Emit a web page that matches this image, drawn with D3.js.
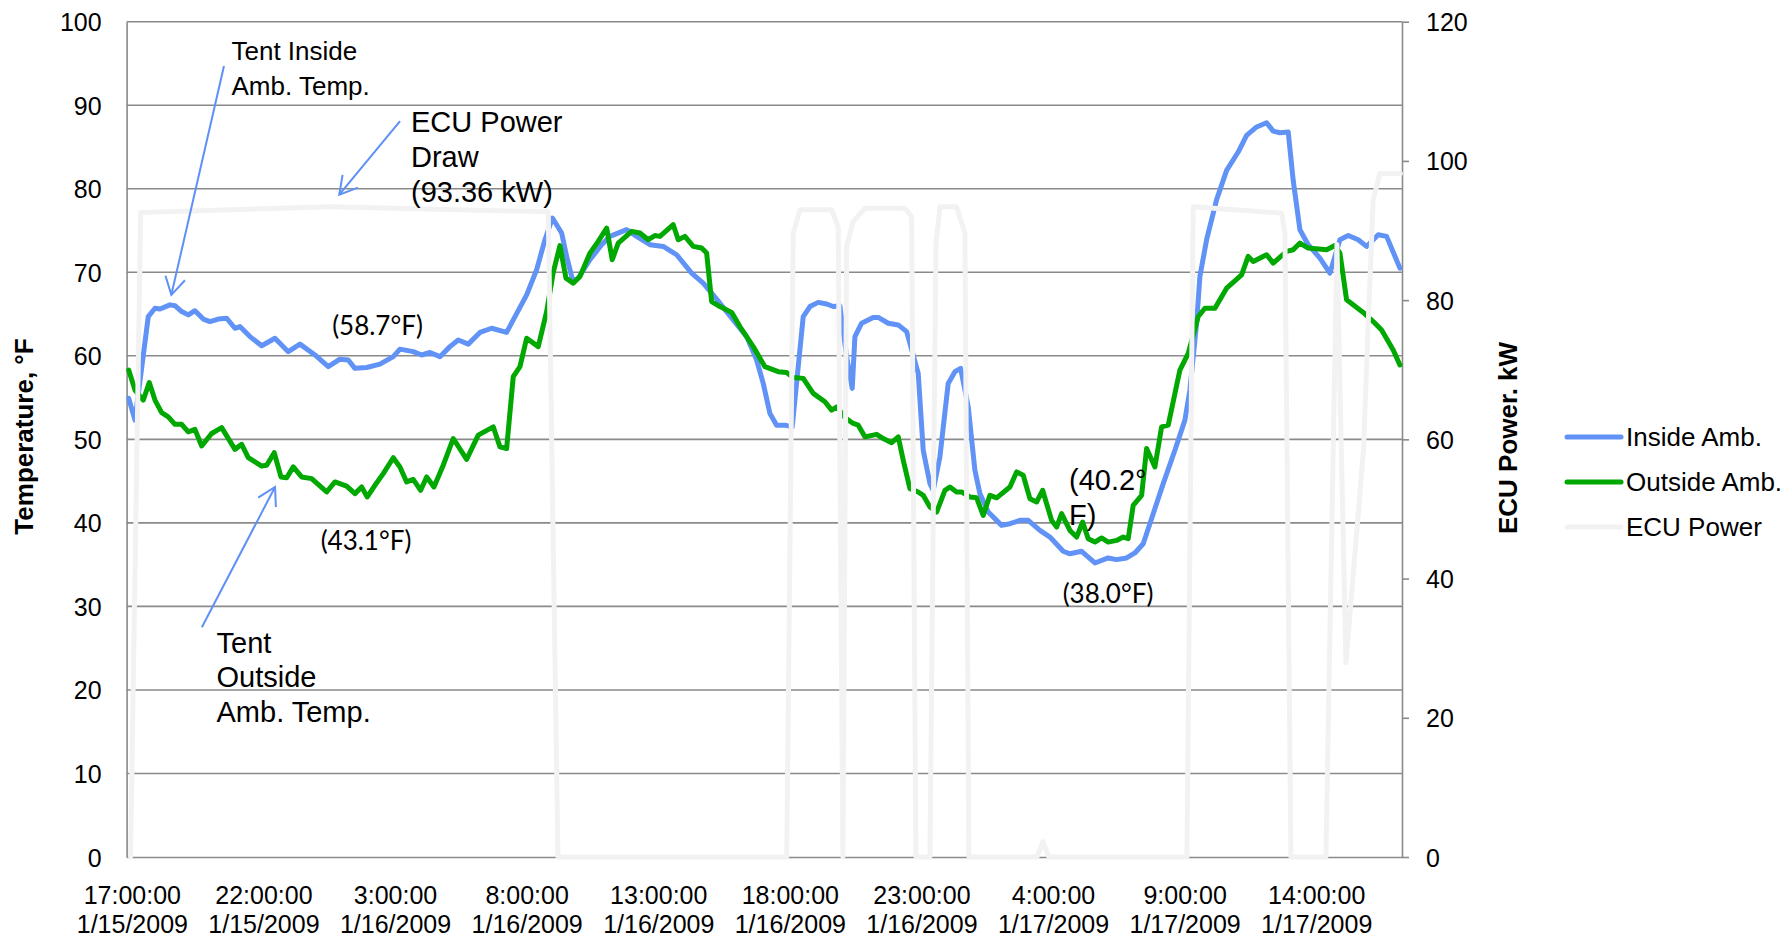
<!DOCTYPE html>
<html><head><meta charset="utf-8">
<script src="https://cdn.jsdelivr.net/npm/d3@7/dist/d3.min.js"></script>
<style>body{margin:0;background:#fff}svg{display:block}</style>
</head><body>
<svg id="chart" width="1789" height="938"></svg>
<script>
// ---- data (hours after 17:00 on 1/15/2009, value) ----
const timeLabels = [
  ["17:00:00","1/15/2009"],["22:00:00","1/15/2009"],["3:00:00","1/16/2009"],["8:00:00","1/16/2009"],
  ["13:00:00","1/16/2009"],["18:00:00","1/16/2009"],["23:00:00","1/16/2009"],["4:00:00","1/17/2009"],
  ["9:00:00","1/17/2009"],["14:00:00","1/17/2009"]
];
const labelHours = [0,5,10,15,20,25,30,35,40,45];
const tempTicks = [0,10,20,30,40,50,60,70,80,90,100];
const powerTicks = [0,20,40,60,80,100,120];
const seriesNames = ["Inside Amb.","Outside Amb.","ECU Power"];

const insideAmb = [
 [-0.12,54.9],[0.118,52.3],[0.623,64.7],[0.878,65.7],[1.068,65.6],[1.448,66.1],[1.638,66.0],[1.892,65.3],
 [2.143,64.9],[2.397,65.4],[2.713,64.4],[2.967,64.1],[3.283,64.4],[3.602,64.5],[3.917,63.3],[4.107,63.5],
 [4.487,62.3],[4.932,61.2],[5.437,62.1],[5.942,60.5],[6.387,61.4],[6.957,60.1],[7.462,58.7],[7.906,59.6],
 [8.222,59.5],[8.476,58.5],[8.921,58.6],[9.426,59.0],[9.932,59.9],[10.186,60.8],[10.691,60.5],[11.011,60.1],
 [11.326,60.4],[11.706,59.9],[12.086,61.1],[12.401,61.9],[12.781,61.4],[13.226,62.8],[13.67,63.3],[14.24,62.8],
 [14.491,64.3],[15.0,67.3],[15.38,70.3],[15.695,73.9],[15.98,76.5],[16.33,74.7],[16.52,71.9],[16.71,69.5],
 [16.77,68.9],[16.96,69.3],[17.405,71.5],[17.849,73.3],[18.165,74.3],[18.799,75.1],[19.179,74.3],[19.685,73.3],
 [20.19,73.1],[20.699,72.1],[21.269,69.9],[21.71,68.7],[22.344,66.3],[22.849,64.3],[23.359,62.3],[23.739,59.5],
 [23.989,56.7],[24.244,53.1],[24.498,51.7],[24.814,51.7],[25.091,51.5],[25.509,64.7],[25.764,65.9],[26.079,66.4],
 [26.398,66.2],[26.649,65.9],[26.903,66.0],[27.158,59.9],[27.371,56.1],[27.473,62.3],[27.728,63.9],[28.169,64.6],
 [28.359,64.6],[28.739,63.9],[29.119,63.7],[29.438,62.9],[29.563,61.5],[29.878,57.9],[30.068,48.7],[30.323,44.7],
 [30.448,43.9],[30.702,47.9],[31.018,56.7],[31.273,58.1],[31.489,58.5],[31.778,53.9],[32.032,46.3],[32.222,43.5],
 [32.538,41.3],[33.047,39.7],[33.363,39.9],[33.743,40.3],[34.058,40.3],[34.502,39.1],[34.882,38.3],[35.388,36.6],
 [35.642,36.3],[36.087,36.6],[36.592,35.2],[37.097,35.8],[37.416,35.6],[37.796,35.8],[38.112,36.4],[38.427,37.5],
 [38.807,41.1],[39.187,44.7],[39.631,48.7],[40.011,52.3],[40.201,55.9],[40.456,63.9],[40.581,69.5],[40.836,73.9],
 [41.216,78.7],[41.596,82.2],[42.036,84.4],[42.356,86.4],[42.736,87.4],[43.116,87.9],[43.366,86.9],[43.621,86.7],
 [43.936,86.8],[44.126,81.0],[44.381,75.1],[44.696,73.3],[45.141,71.7],[45.521,69.9],[45.901,73.9],[46.216,74.4],
 [46.596,73.9],[46.915,73.1],[47.356,74.5],[47.675,74.3],[48.18,70.5]
];

const outsideAmb = [
 [-0.12,58.3],[0.118,55.9],[0.433,54.7],[0.661,56.8],[0.878,54.7],[1.132,53.2],[1.383,52.7],[1.638,51.8],
 [1.892,51.8],[2.143,50.9],[2.397,51.2],[2.652,49.2],[3.032,50.7],[3.412,51.4],[3.917,48.8],[4.172,49.4],
 [4.422,47.8],[4.932,46.8],[5.122,46.9],[5.41,48.4],[5.665,45.5],[5.881,45.4],[6.132,46.7],[6.451,45.5],
 [6.831,45.3],[7.401,43.7],[7.717,44.9],[8.161,44.4],[8.476,43.5],[8.731,44.3],[8.944,43.1],[9.236,44.5],
 [9.552,45.9],[9.932,47.8],[10.186,46.7],[10.441,44.9],[10.691,45.2],[10.973,43.9],[11.201,45.5],[11.478,44.3],
 [11.831,46.9],[12.211,50.1],[12.72,47.6],[13.161,50.5],[13.731,51.5],[13.986,49.1],[14.24,48.9],[14.491,57.5],
 [14.746,58.7],[15.0,62.1],[15.441,61.1],[15.76,65.3],[16.011,70.0],[16.265,73.2],[16.493,69.3],[16.77,68.7],
 [17.025,69.5],[17.405,72.3],[17.72,73.7],[18.04,75.3],[18.252,71.5],[18.48,73.5],[18.989,74.9],[19.305,74.7],
 [19.62,73.9],[19.875,74.4],[20.065,74.3],[20.57,75.7],[20.76,73.9],[21.014,74.3],[21.33,73.1],[21.649,72.9],
 [21.839,72.3],[22.029,66.5],[22.344,65.9],[22.789,65.2],[23.104,63.5],[23.609,61.1],[24.054,58.7],[24.559,58.1],
 [24.878,58.0],[25.129,57.4],[25.509,57.3],[25.889,55.5],[26.334,54.5],[26.588,53.5],[26.79,53.9],[27.094,52.6],
 [27.409,51.9],[27.599,51.7],[27.853,50.3],[28.298,50.6],[28.549,50.1],[28.868,49.6],[29.119,50.3],[29.309,47.5],
 [29.563,44.1],[29.878,43.7],[30.068,43.3],[30.323,41.9],[30.578,41.3],[30.893,43.9],[31.083,44.3],[31.337,43.7],
 [31.527,43.7],[31.843,43.1],[32.097,43.0],[32.348,40.9],[32.603,43.3],[32.857,43.0],[33.363,44.3],[33.617,46.1],
 [33.868,45.7],[34.122,42.9],[34.377,42.5],[34.605,43.9],[34.947,40.3],[35.137,39.5],[35.327,41.1],[35.642,39.1],
 [35.897,38.3],[36.125,40.1],[36.337,38.1],[36.592,37.7],[36.846,38.2],[37.097,37.7],[37.416,37.9],[37.667,38.3],
 [37.857,38.1],[38.047,42.1],[38.366,43.3],[38.556,48.9],[38.872,46.7],[39.126,51.5],[39.377,51.7],[39.821,58.3],
 [40.137,60.3],[40.517,64.7],[40.771,65.7],[41.151,65.7],[41.596,68.1],[42.166,69.7],[42.416,71.9],[42.606,71.3],
 [43.116,72.1],[43.366,71.1],[43.875,72.5],[44.126,72.7],[44.381,73.5],[44.696,72.9],[45.395,72.7],[45.711,73.2],
 [45.901,72.3],[46.155,66.7],[46.786,65.2],[47.166,64.1],[47.485,63.1],[47.926,60.7],[48.18,58.9]
];

const ecuPower = [
 [-0.05,0],[0.334,92.6],[7.527,93.4],[15.821,92.7],[16.189,0],[24.882,0],[25.129,89.6],[25.384,93.0],
 [26.588,93.0],[26.839,90.5],[27.017,0],[27.158,87.7],[27.409,91.3],[27.853,93.2],[29.373,93.2],[29.628,92.0],
 [29.791,0],[30.323,0],[30.551,88.0],[30.703,93.4],[31.337,93.4],[31.653,89.6],[31.805,0],[34.389,0],
 [34.617,2.2],[34.845,0],[40.087,0],[40.327,93.4],[43.685,92.5],[43.811,89.6],[44.039,0],[45.369,0],
 [45.787,88.0],[46.129,27.9],[46.797,58.5],[46.976,76.7],[47.166,94.4],[47.42,98.2],[48.2,98.2]
];

// ---- layout ----
const plot = {left:126.6, right:1402, top:21.7, bottom:857};
const colors = {inside:"#6192F5", outside:"#01A801", ecu:"#F2F2F2", grid:"#8A8A8A", arrow:"#5E90F5"};
const svg = d3.select("#chart");
const x = d3.scaleLinear().domain([-0.2, 48.26]).range([plot.left, plot.right]);
const yT = d3.scaleLinear().domain([0,100]).range([plot.bottom, plot.top]);
const yP = d3.scaleLinear().domain([0,120]).range([plot.bottom, plot.top]);
const FONT = "'Liberation Sans', Arial, sans-serif";

// gridlines
svg.append("g").selectAll("line").data(tempTicks.filter(d=>d>0)).join("line")
  .attr("x1", plot.left).attr("x2", plot.right)
  .attr("y1", d=>yT(d)).attr("y2", d=>yT(d))
  .attr("stroke", colors.grid).attr("stroke-width", 1.6);

// axes
const gL = svg.append("g").attr("transform",`translate(${plot.left},0)`)
  .call(d3.axisLeft(yT).tickValues(tempTicks).tickSizeInner(0).tickSizeOuter(0).tickPadding(25));
const gR = svg.append("g").attr("transform",`translate(${plot.right},0)`)
  .call(d3.axisRight(yP).tickValues(powerTicks).tickSizeInner(7).tickSizeOuter(0).tickPadding(17));
const gB = svg.append("g").attr("transform",`translate(0,${plot.bottom})`)
  .call(d3.axisBottom(x).tickValues(labelHours).tickSizeInner(0).tickSizeOuter(0));
[gL,gR,gB].forEach(g=>{
  g.select(".domain").attr("stroke", colors.grid).attr("stroke-width", 1.6);
  g.selectAll(".tick line").attr("stroke", colors.grid).attr("stroke-width", 1.6);
  g.selectAll("text").attr("font-family", FONT).attr("font-size", 25).attr("fill","#000");
});
gL.selectAll("text").attr("dy","0.36em");
gR.selectAll("text").attr("dy","0.36em");
gB.selectAll(".tick text").each(function(d,i){
  const t = d3.select(this).text(null).attr("dy", null).attr("y", 0);
  t.append("tspan").attr("x",0).attr("y",47).text(timeLabels[i][0]);
  t.append("tspan").attr("x",0).attr("y",75.5).text(timeLabels[i][1]);
});

// series
const lineT = d3.line().x(d=>x(d[0])).y(d=>yT(d[1]));
const lineP = d3.line().x(d=>x(d[0])).y(d=>yP(d[1]));
const seriesG = svg.append("g").attr("fill","none").attr("stroke-width",5)
  .attr("stroke-linejoin","round").attr("stroke-linecap","round");
seriesG.append("path").datum(insideAmb).attr("d", lineT).attr("stroke", colors.inside);
seriesG.append("path").datum(outsideAmb).attr("d", lineT).attr("stroke", colors.outside);
seriesG.append("path").datum(ecuPower).attr("d", lineP).attr("stroke", colors.ecu);

// axis titles
svg.append("text").attr("transform","translate(33,436.5) rotate(-90)")
  .attr("text-anchor","middle").attr("font-family",FONT).attr("font-weight","bold")
  .attr("font-size",26).text("Temperature, °F");
svg.append("text").attr("transform","translate(1517,438) rotate(-90)")
  .attr("text-anchor","middle").attr("font-family",FONT).attr("font-weight","bold")
  .attr("font-size",26).text("ECU Power. kW");

// legend
const legColors = [colors.inside, colors.outside, colors.ecu];
const leg = svg.append("g");
seriesNames.forEach((n,i)=>{
  const ly = 437 + i*45;
  leg.append("line").attr("x1",1567).attr("x2",1621).attr("y1",ly).attr("y2",ly)
    .attr("stroke",legColors[i]).attr("stroke-width",5).attr("stroke-linecap","round");
  leg.append("text").attr("x",1626).attr("y",ly).attr("dy","0.36em")
    .attr("font-family",FONT).attr("font-size",26).text(n);
});

// annotations
function multiText(lines, x0, y0, size, step, family){
  const t = svg.append("text").attr("font-family", family||FONT).attr("font-size", size);
  lines.forEach((s,i)=>t.append("tspan").attr("x",x0).attr("y",y0+i*step).text(s));
  return t;
}
multiText(["Tent Inside","Amb. Temp."], 231.5, 60, 26, 35);
multiText(["ECU Power","Draw","(93.36 kW)"], 411, 131.5, 29, 35);
multiText(["Tent","Outside","Amb. Temp."], 216.5, 652.5, 29, 34.7);
multiText(["(40.2°","F)"], 1069, 490, 29, 35);
const CAL = "Lato, 'Open Sans', sans-serif";
svg.append("text").attr("x",377.5).attr("y",335).attr("text-anchor","middle")
  .attr("font-family",CAL).attr("font-size",26).text("(58.7°F)");
svg.append("text").attr("x",366).attr("y",550).attr("text-anchor","middle")
  .attr("font-family",CAL).attr("font-size",26).text("(43.1°F)");
svg.append("text").attr("x",1108).attr("y",603).attr("text-anchor","middle")
  .attr("font-family",CAL).attr("font-size",26).text("(38.0°F)");

// arrows: [tailHour, tailTemp, tipHour, tipTemp]
const arrows = [[3.5,94.7,1.5,67.3],[10.19,88.1,7.88,79.3],[2.66,27.5,5.44,44.3]];
const ag = svg.append("g").attr("stroke",colors.arrow).attr("stroke-width",2).attr("fill","none");
arrows.forEach(a=>{
  const x1=x(a[0]), y1=yT(a[1]), x2=x(a[2]), y2=yT(a[3]);
  ag.append("line").attr("x1",x1).attr("y1",y1).attr("x2",x2).attr("y2",y2);
  const ang = Math.atan2(y1-y2, x1-x2), L=20, s=Math.PI/6;
  ag.append("path").attr("d",
    `M${x2+L*Math.cos(ang+s)},${y2+L*Math.sin(ang+s)}L${x2},${y2}L${x2+L*Math.cos(ang-s)},${y2+L*Math.sin(ang-s)}`);
});
</script>
</body></html>
